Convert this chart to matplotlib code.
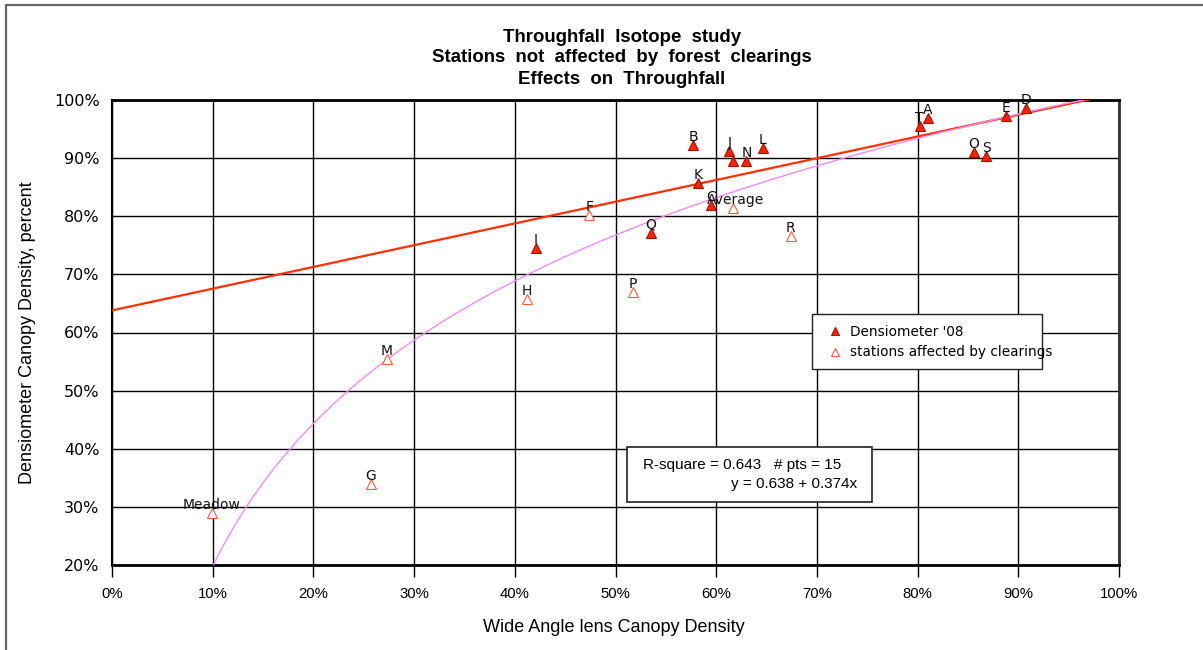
import matplotlib
matplotlib.use("Agg")
import matplotlib.pyplot as plt
import numpy as np
from matplotlib.lines import Line2D
from matplotlib.patches import Rectangle
from matplotlib.ticker import MultipleLocator, FuncFormatter

# ---------------- data ----------------
dens_labels = ['T', 'A', 'E', 'D', 'O', 'S', 'B', 'J', '', 'N', 'L', 'K', 'C', 'Q', 'I']
dens_x = [80.2, 81.0, 88.8, 90.8, 85.6, 86.8, 57.7, 61.3, 61.7, 63.0, 64.6, 58.2, 59.5, 53.5, 42.1]
dens_y = [95.5, 96.9, 97.2, 98.6, 91.1, 90.4, 92.3, 91.2, 89.5, 89.5, 91.7, 85.7, 81.9, 77.1, 74.5]

clear_labels = ['F', 'Average', 'R', 'H', 'P', 'M', 'G', 'Meadow']
clear_x = [47.4, 61.7, 67.4, 41.2, 51.7, 27.3, 25.7, 9.9]
clear_y = [80.2, 81.4, 76.6, 65.8, 67.0, 55.4, 33.9, 28.9]

# linear fit shown in the annotation (fractions)
lin_intercept = 0.638
lin_slope = 0.374
# logarithmic trend (pink)
log_a = 1.013
log_b = 0.354

# ---------------- figure ----------------
W, H = 1203, 650
fig = plt.figure(figsize=(W / 100, H / 100), dpi=100)
L, R, T, B = 112, 1119, 100, 565
ax = fig.add_axes([L / W, 1 - B / H, (R - L) / W, (B - T) / H])
ax.set_xlim(0, 100)
ax.set_ylim(20, 100)

ax.xaxis.set_major_locator(MultipleLocator(10))
ax.yaxis.set_major_locator(MultipleLocator(10))
pct = FuncFormatter(lambda v, p: f"{v:.0f}%")
ax.xaxis.set_major_formatter(pct)
ax.yaxis.set_major_formatter(pct)
ax.grid(True, color='black', linewidth=1.0)
ax.set_axisbelow(True)

ax.tick_params(axis='x', direction='out', length=8.5, width=1.0, pad=7,
               labelsize=10.7, colors='black')
ax.tick_params(axis='y', length=0, pad=9, labelsize=11.5)
for lab in ax.get_xticklabels():
    lab.set_fontfamily('Liberation Sans')
for lab in ax.get_yticklabels():
    lab.set_fontfamily('DejaVu Sans')

for s in ['top', 'bottom', 'right']:
    ax.spines[s].set_linewidth(2.0)
ax.spines['left'].set_linewidth(1.5)
ax.spines['right'].set_color('#333333')

# regression line
xl = np.linspace(0, 100, 400)
ax.plot(xl, 100 * (lin_intercept + lin_slope * xl / 100), color='#ff3000',
        linewidth=1.6, zorder=3)
# log trend
xg = np.linspace(10, 100, 400)
ax.plot(xg, 100 * (log_a + log_b * np.log(xg / 100)), color='#f58af5',
        linewidth=1.0, zorder=3)

# markers
h1, = ax.plot(dens_x, dens_y, linestyle='none', marker='^', markersize=7.5,
              markerfacecolor='#ff2200', markeredgecolor='#a81000', markeredgewidth=0.8,
              zorder=5, label="Densiometer '08")
h2, = ax.plot(clear_x, clear_y, linestyle='none', marker='^', markersize=7.5,
              markerfacecolor='white', markeredgecolor='#ff5a3c', markeredgewidth=0.8,
              zorder=5, label='stations affected by clearings')

for lbl, x, y in zip(dens_labels + clear_labels, dens_x + clear_x, dens_y + clear_y):
    if lbl:
        dx = 1.5 if lbl == 'Average' else 0
        ax.annotate(lbl, (x, y), xytext=(dx, 3), textcoords='offset points',
                    ha='center', va='baseline', fontsize=10,
                    family='DejaVu Sans', color='#111111', zorder=6)

# legend box (text slightly overflows the box, as in the original)
ax.add_patch(Rectangle((812 / W, 1 - 369 / H), (1042 - 812) / W, (369 - 314) / H,
                       transform=fig.transFigure, facecolor='white',
                       edgecolor='#222222', linewidth=1.0, zorder=6, clip_on=False))
leg = ax.legend(handles=[h1, h2], loc='upper left',
                bbox_to_anchor=(828 / W, 1 - 325 / H), bbox_transform=fig.transFigure,
                frameon=False, prop={'family': 'DejaVu Sans', 'size': 9.8},
                handlelength=1.0, handletextpad=0.6, borderpad=0, labelspacing=0.47,
                borderaxespad=0, markerscale=0.75)
leg.set_zorder(7)

# annotation box
fig.add_artist(Rectangle((627 / W, 1 - 502 / H), (872 - 627) / W, (502 - 447) / H,
                         transform=fig.transFigure, facecolor='white',
                         edgecolor='#222222', linewidth=1.2, zorder=10))
fig.text(643 / W, 1 - 465 / H, "R-square = 0.643   # pts = 15", ha='left', va='center',
         fontsize=11, family='Liberation Sans', zorder=11)
fig.text(857 / W, 1 - 484 / H, "y = 0.638 + 0.374x", ha='right', va='center',
         fontsize=11, family='Liberation Sans', zorder=11)

# axis labels
fig.text(614 / W, 1 - 627 / H, "Wide Angle lens Canopy Density", ha='center',
         va='center', fontsize=13, family='Liberation Sans')
fig.text(28 / W, 1 - 333 / H, "Densiometer Canopy Density, percent", ha='center',
         va='center', rotation=90, fontsize=13, family='Liberation Sans')

# title
title_font = ['Liberation Sans Narrow', 'Liberation Sans']
for txt, yy in [("Throughfall  Isotope  study", 38),
                ("Stations  not  affected  by  forest  clearings", 58),
                ("Effects  on  Throughfall", 79)]:
    fig.text(622 / W, 1 - yy / H, txt, ha='center', va='center', fontsize=13.4,
             fontweight='bold', family=title_font)

# figure border (top and left)
fig.add_artist(Line2D([6 / W, 6 / W, 1.0], [0.0, 1 - 5 / H, 1 - 5 / H],
                      transform=fig.transFigure, color='#666666', linewidth=1.6))

fig.savefig('out.png', dpi=100)
